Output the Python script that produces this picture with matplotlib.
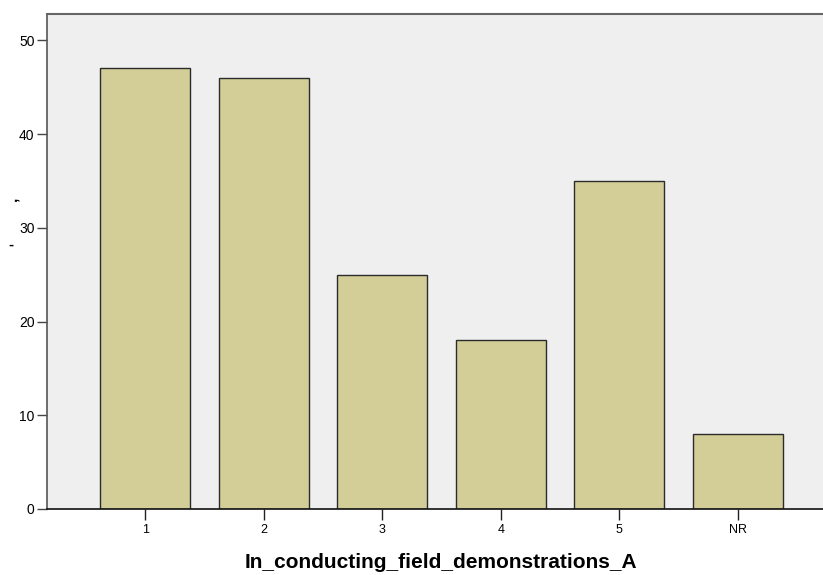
import matplotlib
matplotlib.use("Agg")
import matplotlib.pyplot as plt

categories = ["1", "2", "3", "4", "5", "NR"]
counts = [47, 46, 25, 18, 35, 8]
yticks = [0, 10, 20, 30, 40, 50]

plt.rcParams['font.family'] = ['Liberation Sans', 'DejaVu Sans']

fig = plt.figure(figsize=(8.23, 5.75), dpi=100)
ax = fig.add_axes([47/823, 1-509/575, 1-47/823, (509-14)/575])
ax.set_facecolor("#EFEFEF")
x = list(range(len(categories)))
ax.bar(x, counts, width=0.76, color="#D3CE98", edgecolor="#2b2b2b", linewidth=1.0, zorder=2)
ax.set_xlim(-0.83, 5.72)
ax.set_ylim(0, 52.8)
ax.set_xticks(x)
ax.set_xticklabels(categories, fontsize=9)
ax.set_yticks(yticks)
ax.set_yticklabels([str(v) for v in yticks], fontsize=10)
ax.tick_params(axis='x', length=8, width=1, color='#222222', pad=3)
ax.tick_params(axis='y', length=7, width=1, color='#444444', pad=2)
ax.spines['right'].set_visible(False)
ax.spines['top'].set_color('#666666')
ax.spines['top'].set_linewidth(1.5)
ax.spines['left'].set_color('#555555')
ax.spines['left'].set_linewidth(1.2)
ax.spines['bottom'].set_color('#111111')
ax.spines['bottom'].set_linewidth(1.2)
fig.text(441/823, 1-563/575, "In_conducting_field_demonstrations_A", fontsize=15,
         fontweight='bold', ha='center', va='center')
fig.text(12/823, 1-199/575, ",", fontsize=11, fontweight='bold', ha='center', va='center', rotation=90)
fig.text(11/823, 1-245/575, "-", fontsize=11, fontweight='bold', ha='center', va='center')
fig.savefig("out.png", dpi=100)
